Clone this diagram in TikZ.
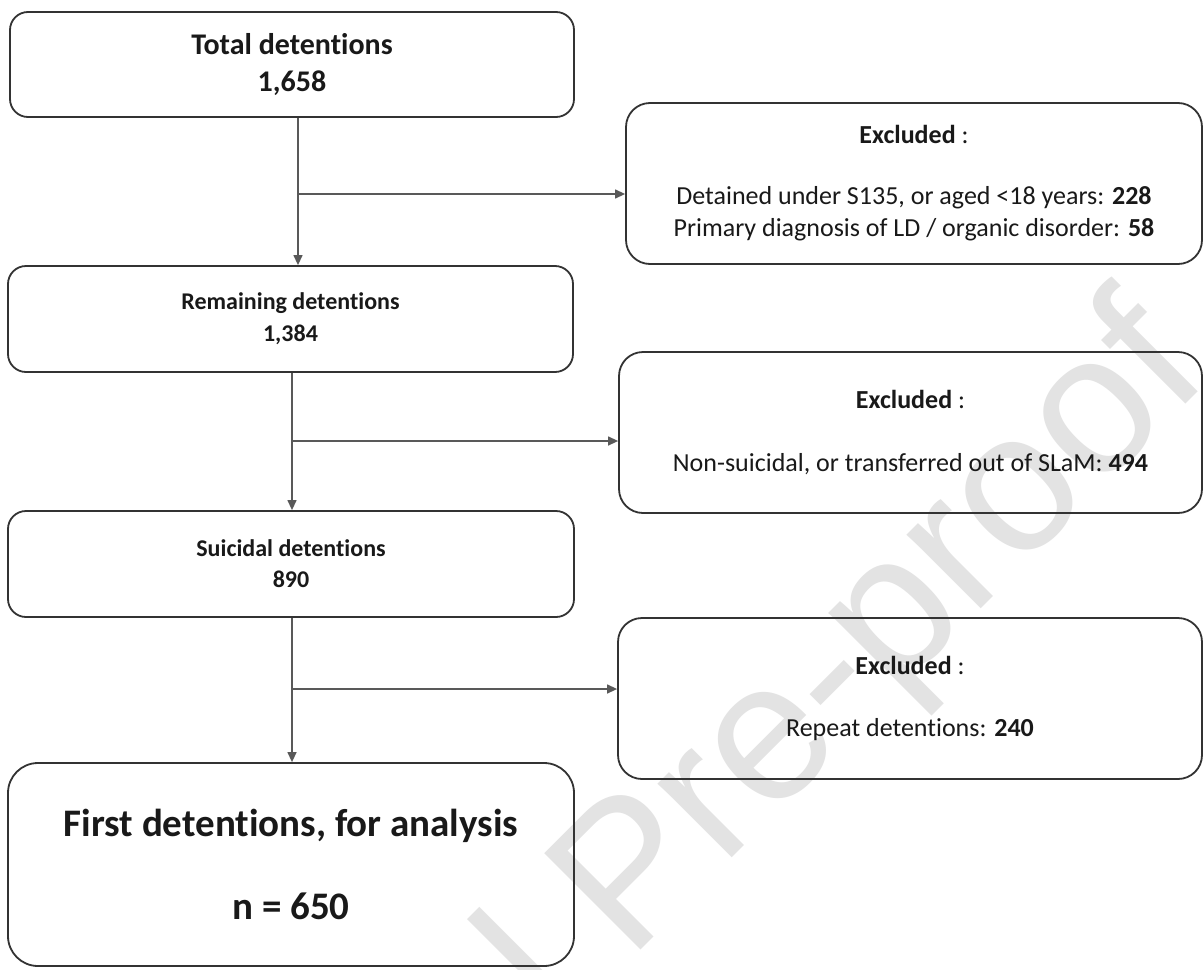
\documentclass[tikz,border=0pt]{standalone}
\usepackage{fontspec}
\setmainfont{Carlito}[Ligatures=NoCommon]
\newfontfamily\wmfont{Liberation Sans}
\usetikzlibrary{arrows.meta}
\begin{document}
\begin{tikzpicture}[x=1pt,y=-1pt,
  box/.style={draw=black!80, line width=1.8pt, rounded corners=18pt, inner sep=0pt, align=center, text=black!90},
  exbox/.style={box, rounded corners=24pt, font=\fontsize{26}{32}\selectfont},
  conn/.style={draw=black!65, line width=1.3pt},
  arr/.style={conn, -{Triangle[length=10pt,width=9pt]}},
  wm/.style={anchor=base, rotate=45, text=black!11, inner sep=0pt, font=\wmfont\fontsize{198}{198}\selectfont}]
\useasboundingbox (0,0) rectangle (1204,969);
\clip (0,0) rectangle (1204,969);
\fill[white] (0,0) rectangle (1204,969);
% watermark
\node[wm] (wmark) at (672,918) {Journal Pre-proof};
% main column
\node[box, minimum width=564pt, minimum height=105pt, font=\bfseries\fontsize{30}{37}\selectfont] (total) at (292,64.5) {Total detentions\\1,658};
\node[box, minimum width=565pt, minimum height=106pt, font=\bfseries\fontsize{24}{32}\selectfont] (remain) at (290.5,319) {Remaining detentions\\1,384};
\node[box, minimum width=566pt, minimum height=106pt, font=\bfseries\fontsize{24}{31}\selectfont] (suic) at (291,564) {Suicidal detentions\\890};
\node[box, rounded corners=30pt, minimum width=566pt, minimum height=203pt, font=\bfseries\fontsize{39}{47}\selectfont] (first) at (291,864.5) {First detentions, for analysis\\[36pt]n = 650};
% excluded boxes
\node[exbox, minimum width=576pt, minimum height=161pt] (exc1) at (914,183.5) {\textbf{Excluded} :\\[29pt]Detained under S135, or aged <18 years: \textbf{228}\\Primary diagnosis of LD / organic disorder: \textbf{58}};
\node[exbox, minimum width=583pt, minimum height=161pt] (exc2) at (910.5,432.5) {\textbf{Excluded} :\\[31pt]Non-suicidal, or transferred out of SLaM: \textbf{494}};
\node[exbox, minimum width=584pt, minimum height=161pt] (exc3) at (910,698.5) {\textbf{Excluded} :\\[30pt]Repeat detentions: \textbf{240}};
% junctions
\coordinate (j1) at (298,194);
\coordinate (j2) at (292,441);
\coordinate (j3) at (292,689);
% connectors
\draw[arr] (total.south -| j1) -- (remain.north -| j1);
\draw[arr] (j1) -- (exc1.west |- j1);
\draw[arr] (remain.south -| j2) -- (suic.north -| j2);
\draw[arr] (j2) -- (exc2.west |- j2);
\draw[arr] (suic.south -| j3) -- (first.north -| j3);
\draw[arr] (j3) -- (exc3.west |- j3);
\end{tikzpicture}
\end{document}
